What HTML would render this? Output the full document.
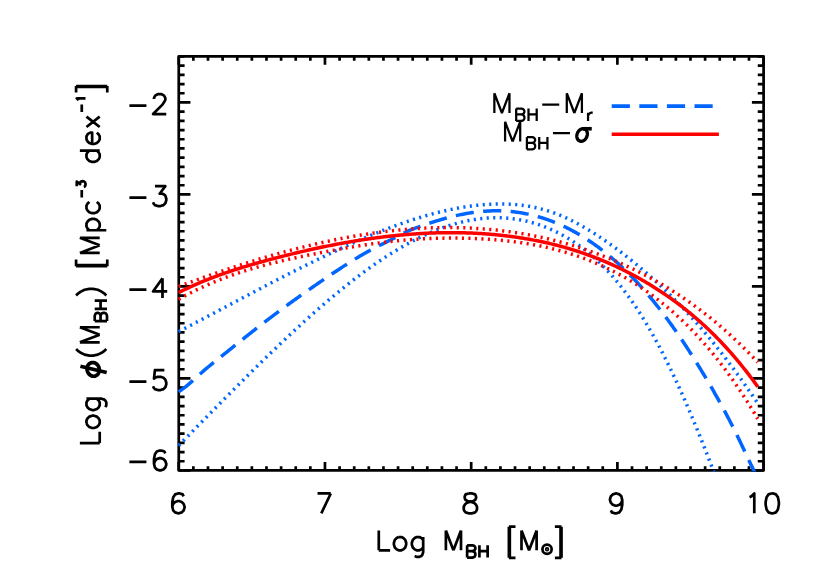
<!DOCTYPE html>
<html><head><meta charset="utf-8"><title>BH mass function</title>
<style>html,body{margin:0;padding:0;background:#fff;font-family:"Liberation Sans",sans-serif}svg{display:block}</style>
</head><body>
<svg width="817" height="584" viewBox="0 0 817 584">
<rect x="0" y="0" width="817" height="584" fill="#fff"/>
<defs><clipPath id="c"><rect x="177.75" y="56.45" width="585.85" height="415"/></clipPath></defs>
<path d="M611.7 106.1 H719" stroke="#0066ff" stroke-width="3.7" stroke-dasharray="18.2 9.4" fill="none"/>
<path d="M611.7 134.3 H718.9" stroke="#ff0000" stroke-width="3.5" fill="none"/>
<path d="M178.75 470.45 v-8.4 M178.75 56.45 v8.4 M193.37 470.45 v-4.25 M193.37 56.45 v4.25 M207.99 470.45 v-4.25 M207.99 56.45 v4.25 M222.61 470.45 v-4.25 M222.61 56.45 v4.25 M237.24 470.45 v-4.25 M237.24 56.45 v4.25 M251.86 470.45 v-4.25 M251.86 56.45 v4.25 M266.48 470.45 v-4.25 M266.48 56.45 v4.25 M281.1 470.45 v-4.25 M281.1 56.45 v4.25 M295.72 470.45 v-4.25 M295.72 56.45 v4.25 M310.34 470.45 v-4.25 M310.34 56.45 v4.25 M324.96 470.45 v-8.4 M324.96 56.45 v8.4 M339.58 470.45 v-4.25 M339.58 56.45 v4.25 M354.21 470.45 v-4.25 M354.21 56.45 v4.25 M368.83 470.45 v-4.25 M368.83 56.45 v4.25 M383.45 470.45 v-4.25 M383.45 56.45 v4.25 M398.07 470.45 v-4.25 M398.07 56.45 v4.25 M412.69 470.45 v-4.25 M412.69 56.45 v4.25 M427.31 470.45 v-4.25 M427.31 56.45 v4.25 M441.93 470.45 v-4.25 M441.93 56.45 v4.25 M456.55 470.45 v-4.25 M456.55 56.45 v4.25 M471.18 470.45 v-8.4 M471.18 56.45 v8.4 M485.8 470.45 v-4.25 M485.8 56.45 v4.25 M500.42 470.45 v-4.25 M500.42 56.45 v4.25 M515.04 470.45 v-4.25 M515.04 56.45 v4.25 M529.66 470.45 v-4.25 M529.66 56.45 v4.25 M544.28 470.45 v-4.25 M544.28 56.45 v4.25 M558.9 470.45 v-4.25 M558.9 56.45 v4.25 M573.52 470.45 v-4.25 M573.52 56.45 v4.25 M588.14 470.45 v-4.25 M588.14 56.45 v4.25 M602.77 470.45 v-4.25 M602.77 56.45 v4.25 M617.39 470.45 v-8.4 M617.39 56.45 v8.4 M632.01 470.45 v-4.25 M632.01 56.45 v4.25 M646.63 470.45 v-4.25 M646.63 56.45 v4.25 M661.25 470.45 v-4.25 M661.25 56.45 v4.25 M675.87 470.45 v-4.25 M675.87 56.45 v4.25 M690.49 470.45 v-4.25 M690.49 56.45 v4.25 M705.12 470.45 v-4.25 M705.12 56.45 v4.25 M719.74 470.45 v-4.25 M719.74 56.45 v4.25 M734.36 470.45 v-4.25 M734.36 56.45 v4.25 M748.98 470.45 v-4.25 M748.98 56.45 v4.25 M763.6 470.45 v-8.4 M763.6 56.45 v8.4 M178.75 56.45 h5.85 M763.6 56.45 h-5.85 M178.75 65.65 h5.85 M763.6 65.65 h-5.85 M178.75 74.85 h5.85 M763.6 74.85 h-5.85 M178.75 84.05 h5.85 M763.6 84.05 h-5.85 M178.75 93.25 h5.85 M763.6 93.25 h-5.85 M178.75 102.45 h11.7 M763.6 102.45 h-11.7 M178.75 111.65 h5.85 M763.6 111.65 h-5.85 M178.75 120.85 h5.85 M763.6 120.85 h-5.85 M178.75 130.05 h5.85 M763.6 130.05 h-5.85 M178.75 139.25 h5.85 M763.6 139.25 h-5.85 M178.75 148.45 h5.85 M763.6 148.45 h-5.85 M178.75 157.65 h5.85 M763.6 157.65 h-5.85 M178.75 166.85 h5.85 M763.6 166.85 h-5.85 M178.75 176.05 h5.85 M763.6 176.05 h-5.85 M178.75 185.25 h5.85 M763.6 185.25 h-5.85 M178.75 194.45 h11.7 M763.6 194.45 h-11.7 M178.75 203.65 h5.85 M763.6 203.65 h-5.85 M178.75 212.85 h5.85 M763.6 212.85 h-5.85 M178.75 222.05 h5.85 M763.6 222.05 h-5.85 M178.75 231.25 h5.85 M763.6 231.25 h-5.85 M178.75 240.45 h5.85 M763.6 240.45 h-5.85 M178.75 249.65 h5.85 M763.6 249.65 h-5.85 M178.75 258.85 h5.85 M763.6 258.85 h-5.85 M178.75 268.05 h5.85 M763.6 268.05 h-5.85 M178.75 277.25 h5.85 M763.6 277.25 h-5.85 M178.75 286.45 h11.7 M763.6 286.45 h-11.7 M178.75 295.65 h5.85 M763.6 295.65 h-5.85 M178.75 304.85 h5.85 M763.6 304.85 h-5.85 M178.75 314.05 h5.85 M763.6 314.05 h-5.85 M178.75 323.25 h5.85 M763.6 323.25 h-5.85 M178.75 332.45 h5.85 M763.6 332.45 h-5.85 M178.75 341.65 h5.85 M763.6 341.65 h-5.85 M178.75 350.85 h5.85 M763.6 350.85 h-5.85 M178.75 360.05 h5.85 M763.6 360.05 h-5.85 M178.75 369.25 h5.85 M763.6 369.25 h-5.85 M178.75 378.45 h11.7 M763.6 378.45 h-11.7 M178.75 387.65 h5.85 M763.6 387.65 h-5.85 M178.75 396.85 h5.85 M763.6 396.85 h-5.85 M178.75 406.05 h5.85 M763.6 406.05 h-5.85 M178.75 415.25 h5.85 M763.6 415.25 h-5.85 M178.75 424.45 h5.85 M763.6 424.45 h-5.85 M178.75 433.65 h5.85 M763.6 433.65 h-5.85 M178.75 442.85 h5.85 M763.6 442.85 h-5.85 M178.75 452.05 h5.85 M763.6 452.05 h-5.85 M178.75 461.25 h5.85 M763.6 461.25 h-5.85 M178.75 470.45 h11.7 M763.6 470.45 h-11.7" stroke="#000" stroke-width="2.7" fill="none"/>
<rect x="178.75" y="56.45" width="584.85" height="414" fill="none" stroke="#000" stroke-width="2.7" stroke-linejoin="round"/>
<g clip-path="url(#c)" fill="none" stroke-width="3.5" stroke-linejoin="round"><path d="M178.6 331.58 L179.76 330.98 L180.92 330.37 L182.08 329.77 L183.24 329.17 L184.4 328.57 L185.56 327.97 L186.72 327.36 L187.88 326.76 L189.04 326.15 L190.21 325.55 L191.37 324.94 L192.53 324.33 L193.69 323.73 L194.85 323.12 L196.01 322.51 L197.17 321.9 L198.33 321.29 L199.49 320.68 L200.65 320.07 L201.81 319.46 L202.97 318.85 L204.13 318.24 L205.29 317.63 L206.45 317.02 L207.61 316.41 L208.77 315.8 L209.93 315.18 L211.09 314.57 L212.26 313.96 L213.42 313.35 L214.58 312.73 L215.74 312.12 L216.9 311.51 L218.06 310.89 L219.22 310.28 L220.38 309.67 L221.54 309.05 L222.7 308.44 L223.86 307.82 L225.02 307.21 L226.18 306.6 L227.34 305.98 L228.5 305.37 L229.66 304.75 L230.82 304.14 L231.98 303.53 L233.14 302.91 L234.31 302.3 L235.47 301.68 L236.63 301.07 L237.79 300.46 L238.95 299.84 L240.11 299.23 L241.27 298.62 L242.43 298 L243.59 297.39 L244.75 296.78 L245.91 296.17 L247.07 295.56 L248.23 294.94 L249.39 294.33 L250.55 293.72 L251.71 293.11 L252.87 292.5 L254.03 291.89 L255.19 291.28 L256.35 290.67 L257.52 290.07 L258.68 289.46 L259.84 288.85 L261 288.24 L262.16 287.64 L263.32 287.03 L264.48 286.42 L265.64 285.82 L266.8 285.21 L267.96 284.61 L269.12 284.01 L270.28 283.4 L271.44 282.8 L272.6 282.2 L273.76 281.6 L274.92 281 L276.08 280.4 L277.24 279.8 L278.4 279.2 L279.57 278.61 L280.73 278.01 L281.89 277.41 L283.05 276.82 L284.21 276.22 L285.37 275.63 L286.53 275.04 L287.69 274.45 L288.85 273.85 L290.01 273.26 L291.17 272.67 L292.33 272.09 L293.49 271.5 L294.65 270.91 L295.81 270.33 L296.97 269.74 L298.13 269.16 L299.29 268.58 L300.45 268 L301.62 267.42 L302.78 266.84 L303.94 266.26 L305.1 265.68 L306.26 265.1 L307.42 264.53 L308.58 263.96 L309.74 263.38 L310.9 262.81 L312.06 262.24 L313.22 261.67 L314.38 261.1 L315.54 260.54 L316.7 259.97 L317.86 259.41 L319.02 258.85 L320.18 258.28 L321.34 257.72 L322.5 257.17 L323.67 256.61 L324.83 256.05 L325.99 255.5 L327.15 254.94 L328.31 254.39 L329.47 253.84 L330.63 253.29 L331.79 252.75 L332.95 252.2 L334.11 251.66 L335.27 251.11 L336.43 250.57 L337.59 250.03 L338.75 249.49 L339.91 248.96 L341.07 248.42 L342.23 247.89 L343.39 247.36 L344.55 246.83 L345.72 246.3 L346.88 245.77 L348.04 245.25 L349.2 244.72 L350.36 244.2 L351.52 243.68 L352.68 243.17 L353.84 242.65 L355 242.14 L356.16 241.62 L357.32 241.11 L358.48 240.61 L359.64 240.1 L360.8 239.6 L361.96 239.1 L363.12 238.6 L364.28 238.1 L365.44 237.6 L366.6 237.11 L367.76 236.62 L368.93 236.13 L370.09 235.65 L371.25 235.17 L372.41 234.68 L373.57 234.21 L374.73 233.73 L375.89 233.26 L377.05 232.79 L378.21 232.32 L379.37 231.85 L380.53 231.39 L381.69 230.93 L382.85 230.47 L384.01 230.02 L385.17 229.56 L386.33 229.12 L387.49 228.67 L388.65 228.23 L389.81 227.78 L390.98 227.35 L392.14 226.91 L393.3 226.48 L394.46 226.05 L395.62 225.63 L396.78 225.2 L397.94 224.78 L399.1 224.37 L400.26 223.95 L401.42 223.54 L402.58 223.14 L403.74 222.73 L404.9 222.33 L406.06 221.94 L407.22 221.54 L408.38 221.15 L409.54 220.77 L410.7 220.38 L411.86 220.01 L413.03 219.63 L414.19 219.26 L415.35 218.89 L416.51 218.52 L417.67 218.16 L418.83 217.8 L419.99 217.45 L421.15 217.1 L422.31 216.75 L423.47 216.41 L424.63 216.07 L425.79 215.74 L426.95 215.4 L428.11 215.08 L429.27 214.75 L430.43 214.43 L431.59 214.12 L432.75 213.81 L433.91 213.5 L435.08 213.2 L436.24 212.9 L437.4 212.61 L438.56 212.32 L439.72 212.03 L440.88 211.75 L442.04 211.47 L443.2 211.2 L444.36 210.93 L445.52 210.67 L446.68 210.41 L447.84 210.15 L449 209.9 L450.16 209.65 L451.32 209.41 L452.48 209.18 L453.64 208.94 L454.8 208.72 L455.96 208.49 L457.13 208.28 L458.29 208.06 L459.45 207.85 L460.61 207.65 L461.77 207.45 L462.93 207.26 L464.09 207.07 L465.25 206.88 L466.41 206.71 L467.57 206.53 L468.73 206.36 L469.89 206.2 L471.05 206.04 L472.21 205.89 L473.37 205.74 L474.53 205.6 L475.69 205.46 L476.85 205.33 L478.01 205.2 L479.17 205.08 L480.34 204.96 L481.5 204.85 L482.66 204.75 L483.82 204.65 L484.98 204.56 L486.14 204.47 L487.3 204.39 L488.46 204.32 L489.62 204.25 L490.78 204.19 L491.94 204.13 L493.1 204.09 L494.26 204.04 L495.42 204.01 L496.58 203.98 L497.74 203.96 L498.9 203.95 L500.06 203.94 L501.22 203.94 L502.39 203.95 L503.55 203.96 L504.71 203.98 L505.87 204.01 L507.03 204.05 L508.19 204.1 L509.35 204.15 L510.51 204.21 L511.67 204.28 L512.83 204.36 L513.99 204.44 L515.15 204.53 L516.31 204.63 L517.47 204.74 L518.63 204.86 L519.79 204.99 L520.95 205.12 L522.11 205.27 L523.27 205.42 L524.44 205.58 L525.6 205.75 L526.76 205.93 L527.92 206.12 L529.08 206.31 L530.24 206.52 L531.4 206.74 L532.56 206.96 L533.72 207.2 L534.88 207.44 L536.04 207.7 L537.2 207.96 L538.36 208.23 L539.52 208.52 L540.68 208.81 L541.84 209.11 L543 209.43 L544.16 209.75 L545.32 210.09 L546.49 210.43 L547.65 210.79 L548.81 211.16 L549.97 211.53 L551.13 211.92 L552.29 212.32 L553.45 212.73 L554.61 213.15 L555.77 213.58 L556.93 214.02 L558.09 214.48 L559.25 214.94 L560.41 215.42 L561.57 215.91 L562.73 216.41 L563.89 216.91 L565.05 217.43 L566.21 217.96 L567.37 218.5 L568.54 219.05 L569.7 219.61 L570.86 220.18 L572.02 220.75 L573.18 221.34 L574.34 221.94 L575.5 222.54 L576.66 223.16 L577.82 223.78 L578.98 224.41 L580.14 225.05 L581.3 225.7 L582.46 226.36 L583.62 227.03 L584.78 227.7 L585.94 228.38 L587.1 229.07 L588.26 229.76 L589.42 230.47 L590.58 231.18 L591.75 231.9 L592.91 232.62 L594.07 233.35 L595.23 234.09 L596.39 234.84 L597.55 235.59 L598.71 236.35 L599.87 237.11 L601.03 237.88 L602.19 238.66 L603.35 239.45 L604.51 240.24 L605.67 241.04 L606.83 241.85 L607.99 242.66 L609.15 243.48 L610.31 244.3 L611.47 245.14 L612.63 245.97 L613.8 246.82 L614.96 247.67 L616.12 248.52 L617.28 249.39 L618.44 250.26 L619.6 251.13 L620.76 252.01 L621.92 252.9 L623.08 253.79 L624.24 254.69 L625.4 255.6 L626.56 256.51 L627.72 257.42 L628.88 258.35 L630.04 259.28 L631.2 260.21 L632.36 261.15 L633.52 262.09 L634.68 263.04 L635.85 264 L637.01 264.96 L638.17 265.93 L639.33 266.9 L640.49 267.88 L641.65 268.87 L642.81 269.86 L643.97 270.85 L645.13 271.85 L646.29 272.86 L647.45 273.87 L648.61 274.89 L649.77 275.92 L650.93 276.95 L652.09 277.99 L653.25 279.03 L654.41 280.08 L655.57 281.14 L656.73 282.2 L657.9 283.27 L659.06 284.34 L660.22 285.42 L661.38 286.51 L662.54 287.61 L663.7 288.71 L664.86 289.82 L666.02 290.94 L667.18 292.06 L668.34 293.19 L669.5 294.32 L670.66 295.47 L671.82 296.62 L672.98 297.78 L674.14 298.94 L675.3 300.11 L676.46 301.29 L677.62 302.48 L678.78 303.68 L679.95 304.88 L681.11 306.09 L682.27 307.31 L683.43 308.53 L684.59 309.76 L685.75 311 L686.91 312.25 L688.07 313.51 L689.23 314.77 L690.39 316.05 L691.55 317.33 L692.71 318.61 L693.87 319.91 L695.03 321.22 L696.19 322.53 L697.35 323.85 L698.51 325.18 L699.67 326.51 L700.83 327.86 L701.99 329.21 L703.16 330.57 L704.32 331.93 L705.48 333.31 L706.64 334.69 L707.8 336.08 L708.96 337.48 L710.12 338.89 L711.28 340.3 L712.44 341.73 L713.6 343.16 L714.76 344.6 L715.92 346.04 L717.08 347.49 L718.24 348.96 L719.4 350.43 L720.56 351.9 L721.72 353.39 L722.88 354.88 L724.04 356.38 L725.21 357.89 L726.37 359.4 L727.53 360.93 L728.69 362.46 L729.85 364 L731.01 365.54 L732.17 367.1 L733.33 368.66 L734.49 370.23 L735.65 371.8 L736.81 373.39 L737.97 374.98 L739.13 376.58 L740.29 378.19 L741.45 379.8 L742.61 381.43 L743.77 383.06 L744.93 384.69 L746.09 386.34 L747.26 387.99 L748.42 389.65 L749.58 391.32 L750.74 393 L751.9 394.68 L753.06 396.37 L754.22 398.07 L755.38 399.77 L756.54 401.49 L757.7 403.21" stroke="#0066ff" stroke-dasharray="2.1 4.4"/><path d="M178.6 445.55 L179.68 444.46 L180.76 443.36 L181.84 442.26 L182.92 441.16 L183.99 440.06 L185.07 438.96 L186.15 437.86 L187.23 436.76 L188.31 435.66 L189.39 434.56 L190.47 433.46 L191.55 432.36 L192.63 431.26 L193.71 430.15 L194.78 429.05 L195.86 427.95 L196.94 426.85 L198.02 425.75 L199.1 424.65 L200.18 423.55 L201.26 422.45 L202.34 421.35 L203.42 420.25 L204.49 419.15 L205.57 418.05 L206.65 416.95 L207.73 415.85 L208.81 414.75 L209.89 413.65 L210.97 412.56 L212.05 411.46 L213.13 410.36 L214.21 409.26 L215.28 408.17 L216.36 407.07 L217.44 405.98 L218.52 404.88 L219.6 403.79 L220.68 402.69 L221.76 401.6 L222.84 400.51 L223.92 399.41 L225 398.32 L226.07 397.23 L227.15 396.14 L228.23 395.05 L229.31 393.96 L230.39 392.88 L231.47 391.79 L232.55 390.7 L233.63 389.62 L234.71 388.53 L235.78 387.45 L236.86 386.37 L237.94 385.28 L239.02 384.2 L240.1 383.12 L241.18 382.04 L242.26 380.97 L243.34 379.89 L244.42 378.81 L245.5 377.74 L246.57 376.66 L247.65 375.59 L248.73 374.52 L249.81 373.45 L250.89 372.38 L251.97 371.31 L253.05 370.25 L254.13 369.18 L255.21 368.12 L256.28 367.06 L257.36 366 L258.44 364.94 L259.52 363.88 L260.6 362.82 L261.68 361.77 L262.76 360.71 L263.84 359.66 L264.92 358.61 L266 357.56 L267.07 356.51 L268.15 355.46 L269.23 354.42 L270.31 353.38 L271.39 352.34 L272.47 351.3 L273.55 350.26 L274.63 349.22 L275.71 348.19 L276.79 347.15 L277.86 346.12 L278.94 345.09 L280.02 344.07 L281.1 343.04 L282.18 342.02 L283.26 341 L284.34 339.98 L285.42 338.96 L286.5 337.94 L287.57 336.93 L288.65 335.92 L289.73 334.91 L290.81 333.9 L291.89 332.9 L292.97 331.89 L294.05 330.89 L295.13 329.89 L296.21 328.9 L297.29 327.9 L298.36 326.91 L299.44 325.92 L300.52 324.93 L301.6 323.95 L302.68 322.96 L303.76 321.98 L304.84 321 L305.92 320.03 L307 319.06 L308.07 318.08 L309.15 317.12 L310.23 316.15 L311.31 315.19 L312.39 314.23 L313.47 313.27 L314.55 312.31 L315.63 311.36 L316.71 310.41 L317.79 309.46 L318.86 308.52 L319.94 307.58 L321.02 306.64 L322.1 305.7 L323.18 304.77 L324.26 303.84 L325.34 302.91 L326.42 301.99 L327.5 301.07 L328.58 300.15 L329.65 299.23 L330.73 298.32 L331.81 297.42 L332.89 296.51 L333.97 295.61 L335.05 294.71 L336.13 293.82 L337.21 292.92 L338.29 292.04 L339.36 291.15 L340.44 290.27 L341.52 289.39 L342.6 288.52 L343.68 287.65 L344.76 286.78 L345.84 285.92 L346.92 285.06 L348 284.2 L349.08 283.35 L350.15 282.5 L351.23 281.66 L352.31 280.82 L353.39 279.98 L354.47 279.15 L355.55 278.32 L356.63 277.5 L357.71 276.68 L358.79 275.86 L359.86 275.05 L360.94 274.24 L362.02 273.44 L363.1 272.64 L364.18 271.85 L365.26 271.05 L366.34 270.27 L367.42 269.49 L368.5 268.71 L369.58 267.94 L370.65 267.17 L371.73 266.4 L372.81 265.64 L373.89 264.89 L374.97 264.14 L376.05 263.39 L377.13 262.65 L378.21 261.91 L379.29 261.18 L380.37 260.46 L381.44 259.73 L382.52 259.02 L383.6 258.3 L384.68 257.6 L385.76 256.89 L386.84 256.2 L387.92 255.51 L389 254.82 L390.08 254.14 L391.15 253.46 L392.23 252.79 L393.31 252.12 L394.39 251.46 L395.47 250.8 L396.55 250.15 L397.63 249.51 L398.71 248.87 L399.79 248.23 L400.87 247.6 L401.94 246.98 L403.02 246.36 L404.1 245.75 L405.18 245.14 L406.26 244.54 L407.34 243.95 L408.42 243.36 L409.5 242.77 L410.58 242.2 L411.65 241.62 L412.73 241.06 L413.81 240.5 L414.89 239.94 L415.97 239.39 L417.05 238.85 L418.13 238.31 L419.21 237.78 L420.29 237.26 L421.37 236.74 L422.44 236.23 L423.52 235.72 L424.6 235.22 L425.68 234.73 L426.76 234.24 L427.84 233.76 L428.92 233.28 L430 232.82 L431.08 232.35 L432.16 231.9 L433.23 231.45 L434.31 231.01 L435.39 230.57 L436.47 230.14 L437.55 229.72 L438.63 229.3 L439.71 228.9 L440.79 228.49 L441.87 228.1 L442.94 227.71 L444.02 227.33 L445.1 226.95 L446.18 226.58 L447.26 226.22 L448.34 225.87 L449.42 225.52 L450.5 225.18 L451.58 224.85 L452.66 224.52 L453.73 224.21 L454.81 223.89 L455.89 223.59 L456.97 223.29 L458.05 223 L459.13 222.72 L460.21 222.45 L461.29 222.18 L462.37 221.92 L463.44 221.67 L464.52 221.42 L465.6 221.19 L466.68 220.96 L467.76 220.73 L468.84 220.52 L469.92 220.31 L471 220.11 L472.08 219.92 L473.16 219.74 L474.23 219.56 L475.31 219.4 L476.39 219.24 L477.47 219.09 L478.55 218.94 L479.63 218.81 L480.71 218.68 L481.79 218.56 L482.87 218.45 L483.95 218.34 L485.02 218.25 L486.1 218.16 L487.18 218.08 L488.26 218.01 L489.34 217.95 L490.42 217.9 L491.5 217.85 L492.58 217.81 L493.66 217.79 L494.73 217.77 L495.81 217.75 L496.89 217.75 L497.97 217.76 L499.05 217.77 L500.13 217.8 L501.21 217.83 L502.29 217.87 L503.37 217.92 L504.45 217.98 L505.52 218.04 L506.6 218.12 L507.68 218.2 L508.76 218.3 L509.84 218.4 L510.92 218.51 L512 218.63 L513.08 218.76 L514.16 218.9 L515.23 219.05 L516.31 219.21 L517.39 219.37 L518.47 219.55 L519.55 219.74 L520.63 219.93 L521.71 220.13 L522.79 220.35 L523.87 220.57 L524.95 220.8 L526.02 221.05 L527.1 221.3 L528.18 221.56 L529.26 221.83 L530.34 222.11 L531.42 222.4 L532.5 222.7 L533.58 223.01 L534.66 223.33 L535.74 223.66 L536.81 224 L537.89 224.34 L538.97 224.7 L540.05 225.07 L541.13 225.45 L542.21 225.84 L543.29 226.24 L544.37 226.65 L545.45 227.07 L546.52 227.5 L547.6 227.94 L548.68 228.39 L549.76 228.85 L550.84 229.32 L551.92 229.8 L553 230.29 L554.08 230.79 L555.16 231.3 L556.24 231.83 L557.31 232.36 L558.39 232.9 L559.47 233.46 L560.55 234.02 L561.63 234.6 L562.71 235.19 L563.79 235.78 L564.87 236.39 L565.95 237.01 L567.02 237.65 L568.1 238.29 L569.18 238.95 L570.26 239.61 L571.34 240.29 L572.42 240.99 L573.5 241.69 L574.58 242.41 L575.66 243.13 L576.74 243.88 L577.81 244.63 L578.89 245.4 L579.97 246.18 L581.05 246.97 L582.13 247.77 L583.21 248.59 L584.29 249.42 L585.37 250.27 L586.45 251.13 L587.53 252 L588.6 252.89 L589.68 253.79 L590.76 254.7 L591.84 255.63 L592.92 256.58 L594 257.53 L595.08 258.5 L596.16 259.49 L597.24 260.49 L598.31 261.51 L599.39 262.54 L600.47 263.59 L601.55 264.65 L602.63 265.72 L603.71 266.82 L604.79 267.92 L605.87 269.05 L606.95 270.19 L608.03 271.34 L609.1 272.51 L610.18 273.7 L611.26 274.9 L612.34 276.12 L613.42 277.36 L614.5 278.61 L615.58 279.88 L616.66 281.17 L617.74 282.47 L618.81 283.79 L619.89 285.13 L620.97 286.48 L622.05 287.85 L623.13 289.24 L624.21 290.65 L625.29 292.08 L626.37 293.52 L627.45 294.98 L628.53 296.46 L629.6 297.96 L630.68 299.47 L631.76 301.01 L632.84 302.56 L633.92 304.13 L635 305.72 L636.08 307.33 L637.16 308.96 L638.24 310.6 L639.32 312.27 L640.39 313.95 L641.47 315.66 L642.55 317.38 L643.63 319.13 L644.71 320.89 L645.79 322.68 L646.87 324.48 L647.95 326.3 L649.03 328.15 L650.1 330.01 L651.18 331.9 L652.26 333.8 L653.34 335.73 L654.42 337.68 L655.5 339.64 L656.58 341.63 L657.66 343.63 L658.74 345.65 L659.82 347.7 L660.89 349.76 L661.97 351.84 L663.05 353.94 L664.13 356.06 L665.21 358.2 L666.29 360.36 L667.37 362.53 L668.45 364.73 L669.53 366.94 L670.6 369.17 L671.68 371.42 L672.76 373.68 L673.84 375.97 L674.92 378.27 L676 380.59 L677.08 382.93 L678.16 385.28 L679.24 387.65 L680.32 390.04 L681.39 392.44 L682.47 394.86 L683.55 397.3 L684.63 399.76 L685.71 402.23 L686.79 404.72 L687.87 407.22 L688.95 409.74 L690.03 412.27 L691.11 414.83 L692.18 417.39 L693.26 419.98 L694.34 422.57 L695.42 425.19 L696.5 427.82 L697.58 430.46 L698.66 433.12 L699.74 435.79 L700.82 438.48 L701.89 441.18 L702.97 443.9 L704.05 446.63 L705.13 449.38 L706.21 452.14 L707.29 454.91 L708.37 457.7 L709.45 460.5 L710.53 463.32 L711.61 466.15 L712.68 468.99 L713.76 471.84 L714.84 474.71 L715.92 477.59 L717 480.49" stroke="#0066ff" stroke-dasharray="2.1 4.4"/><path d="M178.6 391.63 L179.76 390.93 L180.92 390.19 L182.08 389.4 L183.24 388.57 L184.4 387.7 L185.56 386.8 L186.72 385.86 L187.88 384.9 L189.04 383.92 L190.21 382.91 L191.37 381.89 L192.53 380.85 L193.69 379.8 L194.85 378.74 L196.01 377.68 L197.17 376.62 L198.33 375.56 L199.49 374.51 L200.65 373.47 L201.81 372.44 L202.97 371.42 L204.13 370.41 L205.29 369.42 L206.45 368.44 L207.61 367.47 L208.77 366.5 L209.93 365.55 L211.09 364.6 L212.26 363.66 L213.42 362.72 L214.58 361.79 L215.74 360.86 L216.9 359.93 L218.06 359 L219.22 358.08 L220.38 357.15 L221.54 356.23 L222.7 355.3 L223.86 354.37 L225.02 353.44 L226.18 352.51 L227.34 351.58 L228.5 350.64 L229.66 349.71 L230.82 348.78 L231.98 347.85 L233.14 346.91 L234.31 345.98 L235.47 345.05 L236.63 344.12 L237.79 343.19 L238.95 342.26 L240.11 341.33 L241.27 340.4 L242.43 339.47 L243.59 338.55 L244.75 337.62 L245.91 336.7 L247.07 335.78 L248.23 334.86 L249.39 333.95 L250.55 333.03 L251.71 332.12 L252.87 331.21 L254.03 330.3 L255.19 329.39 L256.35 328.49 L257.52 327.58 L258.68 326.68 L259.84 325.78 L261 324.88 L262.16 323.99 L263.32 323.1 L264.48 322.21 L265.64 321.32 L266.8 320.43 L267.96 319.55 L269.12 318.67 L270.28 317.79 L271.44 316.91 L272.6 316.04 L273.76 315.16 L274.92 314.29 L276.08 313.43 L277.24 312.56 L278.4 311.7 L279.57 310.84 L280.73 309.98 L281.89 309.12 L283.05 308.26 L284.21 307.41 L285.37 306.56 L286.53 305.71 L287.69 304.86 L288.85 304.02 L290.01 303.18 L291.17 302.34 L292.33 301.5 L293.49 300.66 L294.65 299.83 L295.81 298.99 L296.97 298.16 L298.13 297.33 L299.29 296.51 L300.45 295.68 L301.62 294.86 L302.78 294.04 L303.94 293.22 L305.1 292.4 L306.26 291.58 L307.42 290.77 L308.58 289.96 L309.74 289.15 L310.9 288.34 L312.06 287.53 L313.22 286.73 L314.38 285.92 L315.54 285.12 L316.7 284.32 L317.86 283.52 L319.02 282.73 L320.18 281.93 L321.34 281.14 L322.5 280.35 L323.67 279.56 L324.83 278.77 L325.99 277.98 L327.15 277.2 L328.31 276.41 L329.47 275.63 L330.63 274.85 L331.79 274.07 L332.95 273.3 L334.11 272.52 L335.27 271.75 L336.43 270.98 L337.59 270.21 L338.75 269.44 L339.91 268.68 L341.07 267.92 L342.23 267.16 L343.39 266.4 L344.55 265.65 L345.72 264.91 L346.88 264.16 L348.04 263.42 L349.2 262.69 L350.36 261.96 L351.52 261.23 L352.68 260.51 L353.84 259.79 L355 259.08 L356.16 258.37 L357.32 257.67 L358.48 256.98 L359.64 256.29 L360.8 255.6 L361.96 254.93 L363.12 254.25 L364.28 253.59 L365.44 252.93 L366.6 252.28 L367.76 251.64 L368.93 251 L370.09 250.37 L371.25 249.75 L372.41 249.14 L373.57 248.53 L374.73 247.93 L375.89 247.33 L377.05 246.74 L378.21 246.15 L379.37 245.56 L380.53 244.98 L381.69 244.39 L382.85 243.81 L384.01 243.23 L385.17 242.65 L386.33 242.07 L387.49 241.48 L388.65 240.89 L389.81 240.3 L390.98 239.71 L392.14 239.11 L393.3 238.5 L394.46 237.89 L395.62 237.27 L396.78 236.65 L397.94 236.03 L399.1 235.41 L400.26 234.8 L401.42 234.2 L402.58 233.62 L403.74 233.05 L404.9 232.5 L406.06 231.96 L407.22 231.44 L408.38 230.94 L409.54 230.44 L410.7 229.96 L411.86 229.49 L413.03 229.04 L414.19 228.59 L415.35 228.15 L416.51 227.71 L417.67 227.29 L418.83 226.87 L419.99 226.45 L421.15 226.04 L422.31 225.63 L423.47 225.22 L424.63 224.82 L425.79 224.42 L426.95 224.02 L428.11 223.63 L429.27 223.25 L430.43 222.86 L431.59 222.49 L432.75 222.11 L433.91 221.74 L435.08 221.38 L436.24 221.02 L437.4 220.66 L438.56 220.31 L439.72 219.96 L440.88 219.62 L442.04 219.28 L443.2 218.95 L444.36 218.63 L445.52 218.3 L446.68 217.99 L447.84 217.68 L449 217.37 L450.16 217.08 L451.32 216.78 L452.48 216.5 L453.64 216.21 L454.8 215.94 L455.96 215.67 L457.13 215.41 L458.29 215.15 L459.45 214.9 L460.61 214.66 L461.77 214.42 L462.93 214.19 L464.09 213.97 L465.25 213.75 L466.41 213.54 L467.57 213.34 L468.73 213.14 L469.89 212.95 L471.05 212.77 L472.21 212.6 L473.37 212.43 L474.53 212.27 L475.69 212.12 L476.85 211.98 L478.01 211.85 L479.17 211.72 L480.34 211.6 L481.5 211.49 L482.66 211.39 L483.82 211.29 L484.98 211.21 L486.14 211.13 L487.3 211.06 L488.46 211 L489.62 210.95 L490.78 210.9 L491.94 210.87 L493.1 210.84 L494.26 210.82 L495.42 210.81 L496.58 210.81 L497.74 210.82 L498.9 210.84 L500.06 210.86 L501.22 210.89 L502.39 210.94 L503.55 210.99 L504.71 211.05 L505.87 211.12 L507.03 211.19 L508.19 211.28 L509.35 211.38 L510.51 211.48 L511.67 211.59 L512.83 211.72 L513.99 211.85 L515.15 211.99 L516.31 212.14 L517.47 212.3 L518.63 212.46 L519.79 212.64 L520.95 212.83 L522.11 213.02 L523.27 213.23 L524.44 213.44 L525.6 213.66 L526.76 213.89 L527.92 214.14 L529.08 214.39 L530.24 214.65 L531.4 214.92 L532.56 215.2 L533.72 215.48 L534.88 215.78 L536.04 216.09 L537.2 216.41 L538.36 216.73 L539.52 217.07 L540.68 217.42 L541.84 217.77 L543 218.14 L544.16 218.51 L545.32 218.89 L546.49 219.29 L547.65 219.69 L548.81 220.11 L549.97 220.53 L551.13 220.96 L552.29 221.41 L553.45 221.86 L554.61 222.32 L555.77 222.8 L556.93 223.28 L558.09 223.77 L559.25 224.27 L560.41 224.79 L561.57 225.31 L562.73 225.84 L563.89 226.39 L565.05 226.94 L566.21 227.5 L567.37 228.08 L568.54 228.66 L569.7 229.26 L570.86 229.86 L572.02 230.48 L573.18 231.1 L574.34 231.74 L575.5 232.38 L576.66 233.04 L577.82 233.71 L578.98 234.38 L580.14 235.07 L581.3 235.77 L582.46 236.48 L583.62 237.2 L584.78 237.93 L585.94 238.67 L587.1 239.42 L588.26 240.18 L589.42 240.95 L590.58 241.74 L591.75 242.53 L592.91 243.34 L594.07 244.15 L595.23 244.98 L596.39 245.82 L597.55 246.66 L598.71 247.52 L599.87 248.39 L601.03 249.28 L602.19 250.17 L603.35 251.07 L604.51 251.99 L605.67 252.91 L606.83 253.85 L607.99 254.8 L609.15 255.76 L610.31 256.73 L611.47 257.71 L612.63 258.71 L613.8 259.71 L614.96 260.73 L616.12 261.76 L617.28 262.8 L618.44 263.85 L619.6 264.92 L620.76 265.99 L621.92 267.08 L623.08 268.18 L624.24 269.29 L625.4 270.41 L626.56 271.54 L627.72 272.69 L628.88 273.85 L630.04 275.02 L631.2 276.2 L632.36 277.39 L633.52 278.6 L634.68 279.82 L635.85 281.05 L637.01 282.29 L638.17 283.54 L639.33 284.81 L640.49 286.09 L641.65 287.38 L642.81 288.69 L643.97 290 L645.13 291.33 L646.29 292.67 L647.45 294.02 L648.61 295.39 L649.77 296.77 L650.93 298.16 L652.09 299.56 L653.25 300.98 L654.41 302.41 L655.57 303.85 L656.73 305.31 L657.9 306.77 L659.06 308.25 L660.22 309.75 L661.38 311.25 L662.54 312.77 L663.7 314.3 L664.86 315.85 L666.02 317.41 L667.18 318.98 L668.34 320.56 L669.5 322.16 L670.66 323.77 L671.82 325.39 L672.98 327.03 L674.14 328.67 L675.3 330.33 L676.46 332 L677.62 333.68 L678.78 335.38 L679.95 337.08 L681.11 338.8 L682.27 340.53 L683.43 342.27 L684.59 344.02 L685.75 345.78 L686.91 347.55 L688.07 349.34 L689.23 351.13 L690.39 352.94 L691.55 354.75 L692.71 356.58 L693.87 358.41 L695.03 360.26 L696.19 362.12 L697.35 363.98 L698.51 365.86 L699.67 367.75 L700.83 369.65 L701.99 371.56 L703.16 373.48 L704.32 375.41 L705.48 377.35 L706.64 379.3 L707.8 381.26 L708.96 383.24 L710.12 385.22 L711.28 387.22 L712.44 389.22 L713.6 391.24 L714.76 393.27 L715.92 395.32 L717.08 397.37 L718.24 399.44 L719.4 401.53 L720.56 403.63 L721.72 405.74 L722.88 407.87 L724.04 410.02 L725.21 412.18 L726.37 414.36 L727.53 416.56 L728.69 418.78 L729.85 421.01 L731.01 423.27 L732.17 425.54 L733.33 427.83 L734.49 430.15 L735.65 432.48 L736.81 434.84 L737.97 437.22 L739.13 439.62 L740.29 442.03 L741.45 444.46 L742.61 446.9 L743.77 449.36 L744.93 451.82 L746.09 454.28 L747.26 456.75 L748.42 459.22 L749.58 461.69 L750.74 464.16 L751.9 466.62 L753.06 469.08 L754.22 471.52 L755.38 473.95 L756.54 476.37 L757.7 478.77" stroke="#0066ff" stroke-dasharray="18.2 9.4"/><path d="M178.6 286.47 L179.76 286.04 L180.92 285.61 L182.08 285.18 L183.24 284.75 L184.4 284.33 L185.56 283.9 L186.72 283.48 L187.88 283.05 L189.04 282.63 L190.21 282.21 L191.37 281.79 L192.53 281.37 L193.69 280.95 L194.85 280.53 L196.01 280.12 L197.17 279.7 L198.33 279.28 L199.49 278.87 L200.65 278.46 L201.81 278.05 L202.97 277.64 L204.13 277.23 L205.29 276.82 L206.45 276.41 L207.61 276 L208.77 275.6 L209.93 275.19 L211.09 274.79 L212.26 274.39 L213.42 273.99 L214.58 273.59 L215.74 273.19 L216.9 272.79 L218.06 272.39 L219.22 272 L220.38 271.6 L221.54 271.21 L222.7 270.82 L223.86 270.43 L225.02 270.04 L226.18 269.65 L227.34 269.26 L228.5 268.88 L229.66 268.49 L230.82 268.11 L231.98 267.73 L233.14 267.35 L234.31 266.97 L235.47 266.59 L236.63 266.21 L237.79 265.84 L238.95 265.46 L240.11 265.09 L241.27 264.72 L242.43 264.35 L243.59 263.98 L244.75 263.61 L245.91 263.24 L247.07 262.88 L248.23 262.51 L249.39 262.15 L250.55 261.79 L251.71 261.43 L252.87 261.07 L254.03 260.72 L255.19 260.36 L256.35 260.01 L257.52 259.65 L258.68 259.3 L259.84 258.95 L261 258.61 L262.16 258.26 L263.32 257.91 L264.48 257.57 L265.64 257.23 L266.8 256.89 L267.96 256.55 L269.12 256.21 L270.28 255.87 L271.44 255.54 L272.6 255.21 L273.76 254.87 L274.92 254.54 L276.08 254.22 L277.24 253.89 L278.4 253.56 L279.57 253.24 L280.73 252.92 L281.89 252.6 L283.05 252.28 L284.21 251.96 L285.37 251.65 L286.53 251.33 L287.69 251.02 L288.85 250.71 L290.01 250.4 L291.17 250.09 L292.33 249.79 L293.49 249.48 L294.65 249.18 L295.81 248.88 L296.97 248.58 L298.13 248.29 L299.29 247.99 L300.45 247.7 L301.62 247.41 L302.78 247.12 L303.94 246.83 L305.1 246.54 L306.26 246.26 L307.42 245.97 L308.58 245.69 L309.74 245.41 L310.9 245.14 L312.06 244.86 L313.22 244.59 L314.38 244.32 L315.54 244.05 L316.7 243.78 L317.86 243.51 L319.02 243.25 L320.18 242.98 L321.34 242.72 L322.5 242.46 L323.67 242.21 L324.83 241.95 L325.99 241.7 L327.15 241.45 L328.31 241.2 L329.47 240.95 L330.63 240.71 L331.79 240.46 L332.95 240.22 L334.11 239.98 L335.27 239.75 L336.43 239.51 L337.59 239.28 L338.75 239.05 L339.91 238.82 L341.07 238.59 L342.23 238.37 L343.39 238.14 L344.55 237.92 L345.72 237.7 L346.88 237.49 L348.04 237.27 L349.2 237.06 L350.36 236.85 L351.52 236.64 L352.68 236.44 L353.84 236.23 L355 236.03 L356.16 235.83 L357.32 235.63 L358.48 235.44 L359.64 235.24 L360.8 235.05 L361.96 234.86 L363.12 234.68 L364.28 234.49 L365.44 234.31 L366.6 234.13 L367.76 233.95 L368.93 233.78 L370.09 233.6 L371.25 233.43 L372.41 233.27 L373.57 233.1 L374.73 232.93 L375.89 232.77 L377.05 232.61 L378.21 232.46 L379.37 232.3 L380.53 232.15 L381.69 232 L382.85 231.85 L384.01 231.71 L385.17 231.56 L386.33 231.42 L387.49 231.28 L388.65 231.15 L389.81 231.01 L390.98 230.88 L392.14 230.75 L393.3 230.63 L394.46 230.5 L395.62 230.38 L396.78 230.26 L397.94 230.15 L399.1 230.03 L400.26 229.92 L401.42 229.81 L402.58 229.7 L403.74 229.6 L404.9 229.5 L406.06 229.4 L407.22 229.3 L408.38 229.21 L409.54 229.12 L410.7 229.03 L411.86 228.94 L413.03 228.86 L414.19 228.78 L415.35 228.7 L416.51 228.62 L417.67 228.55 L418.83 228.48 L419.99 228.41 L421.15 228.34 L422.31 228.28 L423.47 228.22 L424.63 228.16 L425.79 228.11 L426.95 228.05 L428.11 228 L429.27 227.96 L430.43 227.91 L431.59 227.87 L432.75 227.83 L433.91 227.8 L435.08 227.76 L436.24 227.73 L437.4 227.7 L438.56 227.68 L439.72 227.66 L440.88 227.64 L442.04 227.62 L443.2 227.6 L444.36 227.59 L445.52 227.58 L446.68 227.58 L447.84 227.58 L449 227.57 L450.16 227.58 L451.32 227.58 L452.48 227.59 L453.64 227.6 L454.8 227.62 L455.96 227.63 L457.13 227.65 L458.29 227.68 L459.45 227.7 L460.61 227.73 L461.77 227.76 L462.93 227.8 L464.09 227.83 L465.25 227.87 L466.41 227.92 L467.57 227.96 L468.73 228.01 L469.89 228.06 L471.05 228.12 L472.21 228.18 L473.37 228.24 L474.53 228.3 L475.69 228.37 L476.85 228.44 L478.01 228.51 L479.17 228.59 L480.34 228.67 L481.5 228.75 L482.66 228.84 L483.82 228.93 L484.98 229.02 L486.14 229.11 L487.3 229.21 L488.46 229.31 L489.62 229.42 L490.78 229.52 L491.94 229.63 L493.1 229.75 L494.26 229.86 L495.42 229.98 L496.58 230.11 L497.74 230.23 L498.9 230.36 L500.06 230.49 L501.22 230.63 L502.39 230.77 L503.55 230.91 L504.71 231.06 L505.87 231.21 L507.03 231.36 L508.19 231.51 L509.35 231.67 L510.51 231.83 L511.67 232 L512.83 232.17 L513.99 232.34 L515.15 232.51 L516.31 232.69 L517.47 232.87 L518.63 233.06 L519.79 233.25 L520.95 233.44 L522.11 233.63 L523.27 233.83 L524.44 234.03 L525.6 234.24 L526.76 234.45 L527.92 234.66 L529.08 234.87 L530.24 235.09 L531.4 235.32 L532.56 235.54 L533.72 235.77 L534.88 236 L536.04 236.24 L537.2 236.48 L538.36 236.72 L539.52 236.97 L540.68 237.22 L541.84 237.47 L543 237.73 L544.16 237.99 L545.32 238.25 L546.49 238.52 L547.65 238.79 L548.81 239.06 L549.97 239.34 L551.13 239.62 L552.29 239.91 L553.45 240.2 L554.61 240.49 L555.77 240.79 L556.93 241.09 L558.09 241.39 L559.25 241.7 L560.41 242.01 L561.57 242.32 L562.73 242.64 L563.89 242.96 L565.05 243.29 L566.21 243.62 L567.37 243.95 L568.54 244.28 L569.7 244.62 L570.86 244.97 L572.02 245.32 L573.18 245.67 L574.34 246.02 L575.5 246.38 L576.66 246.74 L577.82 247.11 L578.98 247.48 L580.14 247.85 L581.3 248.23 L582.46 248.61 L583.62 249 L584.78 249.39 L585.94 249.78 L587.1 250.17 L588.26 250.58 L589.42 250.98 L590.58 251.39 L591.75 251.8 L592.91 252.22 L594.07 252.64 L595.23 253.06 L596.39 253.49 L597.55 253.92 L598.71 254.35 L599.87 254.79 L601.03 255.24 L602.19 255.68 L603.35 256.13 L604.51 256.59 L605.67 257.05 L606.83 257.51 L607.99 257.98 L609.15 258.45 L610.31 258.92 L611.47 259.4 L612.63 259.89 L613.8 260.37 L614.96 260.86 L616.12 261.36 L617.28 261.86 L618.44 262.36 L619.6 262.87 L620.76 263.38 L621.92 263.9 L623.08 264.42 L624.24 264.94 L625.4 265.47 L626.56 266 L627.72 266.54 L628.88 267.08 L630.04 267.62 L631.2 268.17 L632.36 268.72 L633.52 269.28 L634.68 269.84 L635.85 270.41 L637.01 270.98 L638.17 271.56 L639.33 272.14 L640.49 272.73 L641.65 273.32 L642.81 273.91 L643.97 274.51 L645.13 275.11 L646.29 275.72 L647.45 276.34 L648.61 276.96 L649.77 277.58 L650.93 278.21 L652.09 278.84 L653.25 279.48 L654.41 280.12 L655.57 280.77 L656.73 281.43 L657.9 282.09 L659.06 282.75 L660.22 283.42 L661.38 284.1 L662.54 284.78 L663.7 285.46 L664.86 286.15 L666.02 286.85 L667.18 287.55 L668.34 288.26 L669.5 288.97 L670.66 289.69 L671.82 290.42 L672.98 291.15 L674.14 291.88 L675.3 292.62 L676.46 293.37 L677.62 294.12 L678.78 294.88 L679.95 295.65 L681.11 296.42 L682.27 297.19 L683.43 297.98 L684.59 298.77 L685.75 299.56 L686.91 300.36 L688.07 301.17 L689.23 301.98 L690.39 302.8 L691.55 303.63 L692.71 304.46 L693.87 305.3 L695.03 306.14 L696.19 306.99 L697.35 307.85 L698.51 308.71 L699.67 309.58 L700.83 310.46 L701.99 311.35 L703.16 312.24 L704.32 313.13 L705.48 314.04 L706.64 314.95 L707.8 315.86 L708.96 316.79 L710.12 317.72 L711.28 318.66 L712.44 319.6 L713.6 320.55 L714.76 321.51 L715.92 322.47 L717.08 323.45 L718.24 324.43 L719.4 325.41 L720.56 326.41 L721.72 327.41 L722.88 328.42 L724.04 329.43 L725.21 330.46 L726.37 331.49 L727.53 332.52 L728.69 333.57 L729.85 334.62 L731.01 335.68 L732.17 336.75 L733.33 337.82 L734.49 338.91 L735.65 340 L736.81 341.1 L737.97 342.2 L739.13 343.32 L740.29 344.44 L741.45 345.57 L742.61 346.7 L743.77 347.85 L744.93 349 L746.09 350.16 L747.26 351.33 L748.42 352.51 L749.58 353.69 L750.74 354.89 L751.9 356.09 L753.06 357.3 L754.22 358.51 L755.38 359.74 L756.54 360.98 L757.7 362.22" stroke="#ff0000" stroke-dasharray="2.1 4.4"/><path d="M178.6 299.29 L179.76 298.64 L180.92 297.99 L182.08 297.35 L183.24 296.71 L184.4 296.09 L185.56 295.46 L186.72 294.85 L187.88 294.24 L189.04 293.64 L190.21 293.04 L191.37 292.45 L192.53 291.86 L193.69 291.28 L194.85 290.71 L196.01 290.14 L197.17 289.58 L198.33 289.03 L199.49 288.47 L200.65 287.93 L201.81 287.39 L202.97 286.86 L204.13 286.33 L205.29 285.8 L206.45 285.29 L207.61 284.77 L208.77 284.27 L209.93 283.77 L211.09 283.27 L212.26 282.78 L213.42 282.29 L214.58 281.81 L215.74 281.33 L216.9 280.86 L218.06 280.39 L219.22 279.93 L220.38 279.48 L221.54 279.02 L222.7 278.58 L223.86 278.13 L225.02 277.69 L226.18 277.26 L227.34 276.83 L228.5 276.41 L229.66 275.99 L230.82 275.57 L231.98 275.16 L233.14 274.75 L234.31 274.35 L235.47 273.95 L236.63 273.55 L237.79 273.16 L238.95 272.77 L240.11 272.39 L241.27 272.01 L242.43 271.64 L243.59 271.27 L244.75 270.9 L245.91 270.53 L247.07 270.17 L248.23 269.82 L249.39 269.46 L250.55 269.12 L251.71 268.77 L252.87 268.43 L254.03 268.09 L255.19 267.75 L256.35 267.42 L257.52 267.09 L258.68 266.76 L259.84 266.44 L261 266.12 L262.16 265.8 L263.32 265.49 L264.48 265.18 L265.64 264.87 L266.8 264.57 L267.96 264.26 L269.12 263.97 L270.28 263.67 L271.44 263.37 L272.6 263.08 L273.76 262.79 L274.92 262.51 L276.08 262.22 L277.24 261.94 L278.4 261.66 L279.57 261.39 L280.73 261.11 L281.89 260.84 L283.05 260.57 L284.21 260.3 L285.37 260.04 L286.53 259.77 L287.69 259.51 L288.85 259.25 L290.01 258.99 L291.17 258.74 L292.33 258.48 L293.49 258.23 L294.65 257.98 L295.81 257.73 L296.97 257.49 L298.13 257.24 L299.29 257 L300.45 256.75 L301.62 256.51 L302.78 256.27 L303.94 256.03 L305.1 255.8 L306.26 255.56 L307.42 255.32 L308.58 255.09 L309.74 254.86 L310.9 254.63 L312.06 254.39 L313.22 254.17 L314.38 253.94 L315.54 253.71 L316.7 253.48 L317.86 253.25 L319.02 253.03 L320.18 252.8 L321.34 252.58 L322.5 252.36 L323.67 252.13 L324.83 251.91 L325.99 251.69 L327.15 251.47 L328.31 251.25 L329.47 251.03 L330.63 250.81 L331.79 250.59 L332.95 250.38 L334.11 250.16 L335.27 249.95 L336.43 249.74 L337.59 249.52 L338.75 249.31 L339.91 249.1 L341.07 248.9 L342.23 248.69 L343.39 248.48 L344.55 248.28 L345.72 248.08 L346.88 247.87 L348.04 247.67 L349.2 247.47 L350.36 247.28 L351.52 247.08 L352.68 246.88 L353.84 246.69 L355 246.5 L356.16 246.31 L357.32 246.12 L358.48 245.93 L359.64 245.75 L360.8 245.56 L361.96 245.38 L363.12 245.2 L364.28 245.02 L365.44 244.85 L366.6 244.67 L367.76 244.5 L368.93 244.33 L370.09 244.16 L371.25 243.99 L372.41 243.82 L373.57 243.66 L374.73 243.5 L375.89 243.34 L377.05 243.18 L378.21 243.03 L379.37 242.87 L380.53 242.72 L381.69 242.57 L382.85 242.43 L384.01 242.28 L385.17 242.14 L386.33 242 L387.49 241.86 L388.65 241.73 L389.81 241.6 L390.98 241.47 L392.14 241.34 L393.3 241.21 L394.46 241.09 L395.62 240.97 L396.78 240.85 L397.94 240.74 L399.1 240.62 L400.26 240.51 L401.42 240.4 L402.58 240.3 L403.74 240.2 L404.9 240.09 L406.06 240 L407.22 239.9 L408.38 239.81 L409.54 239.71 L410.7 239.63 L411.86 239.54 L413.03 239.46 L414.19 239.37 L415.35 239.3 L416.51 239.22 L417.67 239.14 L418.83 239.07 L419.99 239 L421.15 238.94 L422.31 238.87 L423.47 238.81 L424.63 238.75 L425.79 238.69 L426.95 238.64 L428.11 238.59 L429.27 238.54 L430.43 238.49 L431.59 238.45 L432.75 238.4 L433.91 238.36 L435.08 238.33 L436.24 238.29 L437.4 238.26 L438.56 238.23 L439.72 238.2 L440.88 238.18 L442.04 238.16 L443.2 238.13 L444.36 238.12 L445.52 238.1 L446.68 238.09 L447.84 238.08 L449 238.07 L450.16 238.07 L451.32 238.06 L452.48 238.06 L453.64 238.07 L454.8 238.07 L455.96 238.08 L457.13 238.09 L458.29 238.1 L459.45 238.11 L460.61 238.13 L461.77 238.15 L462.93 238.17 L464.09 238.2 L465.25 238.22 L466.41 238.25 L467.57 238.29 L468.73 238.32 L469.89 238.36 L471.05 238.4 L472.21 238.44 L473.37 238.48 L474.53 238.53 L475.69 238.58 L476.85 238.63 L478.01 238.68 L479.17 238.74 L480.34 238.8 L481.5 238.86 L482.66 238.93 L483.82 238.99 L484.98 239.06 L486.14 239.14 L487.3 239.21 L488.46 239.29 L489.62 239.37 L490.78 239.45 L491.94 239.53 L493.1 239.62 L494.26 239.71 L495.42 239.81 L496.58 239.9 L497.74 240 L498.9 240.1 L500.06 240.21 L501.22 240.32 L502.39 240.43 L503.55 240.54 L504.71 240.66 L505.87 240.78 L507.03 240.91 L508.19 241.03 L509.35 241.16 L510.51 241.3 L511.67 241.44 L512.83 241.58 L513.99 241.72 L515.15 241.87 L516.31 242.02 L517.47 242.17 L518.63 242.33 L519.79 242.5 L520.95 242.66 L522.11 242.83 L523.27 243 L524.44 243.18 L525.6 243.36 L526.76 243.55 L527.92 243.74 L529.08 243.93 L530.24 244.13 L531.4 244.33 L532.56 244.53 L533.72 244.74 L534.88 244.96 L536.04 245.18 L537.2 245.4 L538.36 245.62 L539.52 245.86 L540.68 246.09 L541.84 246.33 L543 246.57 L544.16 246.82 L545.32 247.08 L546.49 247.33 L547.65 247.6 L548.81 247.86 L549.97 248.14 L551.13 248.41 L552.29 248.69 L553.45 248.98 L554.61 249.27 L555.77 249.57 L556.93 249.87 L558.09 250.17 L559.25 250.49 L560.41 250.8 L561.57 251.12 L562.73 251.45 L563.89 251.78 L565.05 252.12 L566.21 252.46 L567.37 252.81 L568.54 253.16 L569.7 253.52 L570.86 253.88 L572.02 254.25 L573.18 254.63 L574.34 255.01 L575.5 255.39 L576.66 255.78 L577.82 256.18 L578.98 256.58 L580.14 256.99 L581.3 257.41 L582.46 257.83 L583.62 258.25 L584.78 258.68 L585.94 259.12 L587.1 259.56 L588.26 260.01 L589.42 260.47 L590.58 260.93 L591.75 261.4 L592.91 261.88 L594.07 262.36 L595.23 262.84 L596.39 263.34 L597.55 263.84 L598.71 264.34 L599.87 264.85 L601.03 265.37 L602.19 265.9 L603.35 266.43 L604.51 266.97 L605.67 267.51 L606.83 268.07 L607.99 268.62 L609.15 269.19 L610.31 269.76 L611.47 270.34 L612.63 270.93 L613.8 271.52 L614.96 272.12 L616.12 272.72 L617.28 273.34 L618.44 273.96 L619.6 274.59 L620.76 275.22 L621.92 275.86 L623.08 276.51 L624.24 277.17 L625.4 277.83 L626.56 278.5 L627.72 279.18 L628.88 279.87 L630.04 280.56 L631.2 281.26 L632.36 281.97 L633.52 282.69 L634.68 283.41 L635.85 284.14 L637.01 284.88 L638.17 285.63 L639.33 286.39 L640.49 287.15 L641.65 287.92 L642.81 288.7 L643.97 289.49 L645.13 290.28 L646.29 291.08 L647.45 291.9 L648.61 292.72 L649.77 293.55 L650.93 294.38 L652.09 295.23 L653.25 296.08 L654.41 296.95 L655.57 297.82 L656.73 298.7 L657.9 299.59 L659.06 300.49 L660.22 301.4 L661.38 302.32 L662.54 303.25 L663.7 304.19 L664.86 305.14 L666.02 306.09 L667.18 307.06 L668.34 308.04 L669.5 309.02 L670.66 310.02 L671.82 311.02 L672.98 312.04 L674.14 313.07 L675.3 314.1 L676.46 315.15 L677.62 316.21 L678.78 317.28 L679.95 318.36 L681.11 319.44 L682.27 320.54 L683.43 321.66 L684.59 322.78 L685.75 323.91 L686.91 325.05 L688.07 326.21 L689.23 327.37 L690.39 328.55 L691.55 329.74 L692.71 330.94 L693.87 332.15 L695.03 333.38 L696.19 334.61 L697.35 335.86 L698.51 337.12 L699.67 338.39 L700.83 339.67 L701.99 340.96 L703.16 342.27 L704.32 343.59 L705.48 344.92 L706.64 346.26 L707.8 347.62 L708.96 348.99 L710.12 350.37 L711.28 351.76 L712.44 353.17 L713.6 354.59 L714.76 356.02 L715.92 357.46 L717.08 358.92 L718.24 360.39 L719.4 361.88 L720.56 363.37 L721.72 364.89 L722.88 366.41 L724.04 367.95 L725.21 369.5 L726.37 371.06 L727.53 372.64 L728.69 374.24 L729.85 375.84 L731.01 377.47 L732.17 379.1 L733.33 380.75 L734.49 382.41 L735.65 384.09 L736.81 385.78 L737.97 387.49 L739.13 389.21 L740.29 390.95 L741.45 392.7 L742.61 394.46 L743.77 396.24 L744.93 398.04 L746.09 399.85 L747.26 401.67 L748.42 403.51 L749.58 405.37 L750.74 407.24 L751.9 409.13 L753.06 411.03 L754.22 412.94 L755.38 414.88 L756.54 416.83 L757.7 418.79" stroke="#ff0000" stroke-dasharray="2.1 4.4"/><path d="M178.6 292.61 L179.76 292.03 L180.92 291.45 L182.08 290.87 L183.24 290.3 L184.4 289.74 L185.56 289.18 L186.72 288.63 L187.88 288.08 L189.04 287.54 L190.21 287.01 L191.37 286.47 L192.53 285.95 L193.69 285.43 L194.85 284.91 L196.01 284.4 L197.17 283.89 L198.33 283.39 L199.49 282.9 L200.65 282.41 L201.81 281.92 L202.97 281.44 L204.13 280.96 L205.29 280.49 L206.45 280.02 L207.61 279.55 L208.77 279.09 L209.93 278.64 L211.09 278.18 L212.26 277.74 L213.42 277.29 L214.58 276.86 L215.74 276.42 L216.9 275.99 L218.06 275.56 L219.22 275.14 L220.38 274.72 L221.54 274.3 L222.7 273.89 L223.86 273.48 L225.02 273.08 L226.18 272.68 L227.34 272.28 L228.5 271.88 L229.66 271.49 L230.82 271.1 L231.98 270.72 L233.14 270.34 L234.31 269.96 L235.47 269.58 L236.63 269.21 L237.79 268.84 L238.95 268.48 L240.11 268.11 L241.27 267.75 L242.43 267.39 L243.59 267.04 L244.75 266.68 L245.91 266.33 L247.07 265.99 L248.23 265.64 L249.39 265.3 L250.55 264.96 L251.71 264.62 L252.87 264.28 L254.03 263.95 L255.19 263.62 L256.35 263.29 L257.52 262.96 L258.68 262.63 L259.84 262.31 L261 261.99 L262.16 261.67 L263.32 261.35 L264.48 261.03 L265.64 260.72 L266.8 260.4 L267.96 260.09 L269.12 259.78 L270.28 259.47 L271.44 259.16 L272.6 258.86 L273.76 258.55 L274.92 258.25 L276.08 257.94 L277.24 257.64 L278.4 257.34 L279.57 257.05 L280.73 256.75 L281.89 256.45 L283.05 256.16 L284.21 255.87 L285.37 255.57 L286.53 255.29 L287.69 255 L288.85 254.71 L290.01 254.42 L291.17 254.14 L292.33 253.86 L293.49 253.58 L294.65 253.3 L295.81 253.02 L296.97 252.74 L298.13 252.47 L299.29 252.19 L300.45 251.92 L301.62 251.65 L302.78 251.38 L303.94 251.12 L305.1 250.85 L306.26 250.59 L307.42 250.32 L308.58 250.06 L309.74 249.8 L310.9 249.55 L312.06 249.29 L313.22 249.03 L314.38 248.78 L315.54 248.53 L316.7 248.28 L317.86 248.03 L319.02 247.79 L320.18 247.54 L321.34 247.3 L322.5 247.06 L323.67 246.82 L324.83 246.58 L325.99 246.34 L327.15 246.11 L328.31 245.87 L329.47 245.64 L330.63 245.41 L331.79 245.18 L332.95 244.96 L334.11 244.73 L335.27 244.51 L336.43 244.29 L337.59 244.07 L338.75 243.85 L339.91 243.64 L341.07 243.42 L342.23 243.21 L343.39 243 L344.55 242.79 L345.72 242.59 L346.88 242.38 L348.04 242.18 L349.2 241.98 L350.36 241.78 L351.52 241.58 L352.68 241.39 L353.84 241.19 L355 241 L356.16 240.81 L357.32 240.62 L358.48 240.44 L359.64 240.25 L360.8 240.07 L361.96 239.89 L363.12 239.71 L364.28 239.54 L365.44 239.36 L366.6 239.19 L367.76 239.02 L368.93 238.85 L370.09 238.68 L371.25 238.52 L372.41 238.36 L373.57 238.2 L374.73 238.04 L375.89 237.88 L377.05 237.73 L378.21 237.58 L379.37 237.43 L380.53 237.28 L381.69 237.13 L382.85 236.99 L384.01 236.85 L385.17 236.71 L386.33 236.57 L387.49 236.44 L388.65 236.3 L389.81 236.17 L390.98 236.05 L392.14 235.92 L393.3 235.8 L394.46 235.67 L395.62 235.55 L396.78 235.44 L397.94 235.32 L399.1 235.21 L400.26 235.1 L401.42 234.99 L402.58 234.89 L403.74 234.78 L404.9 234.68 L406.06 234.58 L407.22 234.49 L408.38 234.39 L409.54 234.3 L410.7 234.21 L411.86 234.12 L413.03 234.04 L414.19 233.96 L415.35 233.88 L416.51 233.8 L417.67 233.72 L418.83 233.65 L419.99 233.58 L421.15 233.51 L422.31 233.45 L423.47 233.38 L424.63 233.32 L425.79 233.27 L426.95 233.21 L428.11 233.16 L429.27 233.11 L430.43 233.06 L431.59 233.01 L432.75 232.97 L433.91 232.93 L435.08 232.89 L436.24 232.86 L437.4 232.83 L438.56 232.8 L439.72 232.77 L440.88 232.74 L442.04 232.72 L443.2 232.7 L444.36 232.68 L445.52 232.67 L446.68 232.66 L447.84 232.65 L449 232.64 L450.16 232.64 L451.32 232.64 L452.48 232.64 L453.64 232.65 L454.8 232.65 L455.96 232.66 L457.13 232.68 L458.29 232.69 L459.45 232.71 L460.61 232.73 L461.77 232.76 L462.93 232.78 L464.09 232.81 L465.25 232.85 L466.41 232.88 L467.57 232.92 L468.73 232.96 L469.89 233 L471.05 233.05 L472.21 233.1 L473.37 233.15 L474.53 233.21 L475.69 233.27 L476.85 233.33 L478.01 233.39 L479.17 233.46 L480.34 233.53 L481.5 233.6 L482.66 233.68 L483.82 233.76 L484.98 233.84 L486.14 233.92 L487.3 234.01 L488.46 234.1 L489.62 234.2 L490.78 234.29 L491.94 234.39 L493.1 234.49 L494.26 234.6 L495.42 234.71 L496.58 234.82 L497.74 234.94 L498.9 235.06 L500.06 235.18 L501.22 235.3 L502.39 235.43 L503.55 235.56 L504.71 235.7 L505.87 235.83 L507.03 235.97 L508.19 236.12 L509.35 236.26 L510.51 236.41 L511.67 236.57 L512.83 236.72 L513.99 236.88 L515.15 237.05 L516.31 237.21 L517.47 237.38 L518.63 237.56 L519.79 237.73 L520.95 237.91 L522.11 238.09 L523.27 238.28 L524.44 238.47 L525.6 238.67 L526.76 238.86 L527.92 239.06 L529.08 239.27 L530.24 239.48 L531.4 239.69 L532.56 239.9 L533.72 240.12 L534.88 240.35 L536.04 240.57 L537.2 240.8 L538.36 241.04 L539.52 241.27 L540.68 241.51 L541.84 241.76 L543 242.01 L544.16 242.26 L545.32 242.52 L546.49 242.78 L547.65 243.05 L548.81 243.31 L549.97 243.59 L551.13 243.86 L552.29 244.14 L553.45 244.43 L554.61 244.72 L555.77 245.01 L556.93 245.31 L558.09 245.61 L559.25 245.92 L560.41 246.23 L561.57 246.54 L562.73 246.86 L563.89 247.18 L565.05 247.51 L566.21 247.84 L567.37 248.17 L568.54 248.51 L569.7 248.86 L570.86 249.21 L572.02 249.56 L573.18 249.92 L574.34 250.28 L575.5 250.65 L576.66 251.02 L577.82 251.39 L578.98 251.78 L580.14 252.16 L581.3 252.55 L582.46 252.94 L583.62 253.34 L584.78 253.75 L585.94 254.15 L587.1 254.57 L588.26 254.99 L589.42 255.41 L590.58 255.84 L591.75 256.27 L592.91 256.71 L594.07 257.15 L595.23 257.59 L596.39 258.05 L597.55 258.5 L598.71 258.96 L599.87 259.43 L601.03 259.9 L602.19 260.38 L603.35 260.86 L604.51 261.35 L605.67 261.84 L606.83 262.34 L607.99 262.84 L609.15 263.35 L610.31 263.86 L611.47 264.38 L612.63 264.9 L613.8 265.43 L614.96 265.97 L616.12 266.5 L617.28 267.05 L618.44 267.6 L619.6 268.15 L620.76 268.72 L621.92 269.28 L623.08 269.85 L624.24 270.43 L625.4 271.01 L626.56 271.6 L627.72 272.19 L628.88 272.79 L630.04 273.4 L631.2 274.01 L632.36 274.63 L633.52 275.25 L634.68 275.88 L635.85 276.51 L637.01 277.15 L638.17 277.79 L639.33 278.44 L640.49 279.1 L641.65 279.76 L642.81 280.43 L643.97 281.11 L645.13 281.79 L646.29 282.47 L647.45 283.16 L648.61 283.86 L649.77 284.56 L650.93 285.27 L652.09 285.99 L653.25 286.71 L654.41 287.44 L655.57 288.18 L656.73 288.92 L657.9 289.66 L659.06 290.41 L660.22 291.17 L661.38 291.94 L662.54 292.71 L663.7 293.49 L664.86 294.27 L666.02 295.07 L667.18 295.86 L668.34 296.67 L669.5 297.48 L670.66 298.3 L671.82 299.13 L672.98 299.96 L674.14 300.8 L675.3 301.65 L676.46 302.5 L677.62 303.37 L678.78 304.24 L679.95 305.12 L681.11 306.01 L682.27 306.9 L683.43 307.8 L684.59 308.71 L685.75 309.63 L686.91 310.56 L688.07 311.5 L689.23 312.44 L690.39 313.4 L691.55 314.36 L692.71 315.33 L693.87 316.31 L695.03 317.3 L696.19 318.3 L697.35 319.3 L698.51 320.32 L699.67 321.35 L700.83 322.38 L701.99 323.43 L703.16 324.48 L704.32 325.55 L705.48 326.62 L706.64 327.7 L707.8 328.8 L708.96 329.9 L710.12 331.02 L711.28 332.14 L712.44 333.28 L713.6 334.42 L714.76 335.58 L715.92 336.75 L717.08 337.93 L718.24 339.12 L719.4 340.32 L720.56 341.53 L721.72 342.75 L722.88 343.98 L724.04 345.23 L725.21 346.48 L726.37 347.75 L727.53 349.03 L728.69 350.32 L729.85 351.63 L731.01 352.94 L732.17 354.27 L733.33 355.61 L734.49 356.96 L735.65 358.32 L736.81 359.7 L737.97 361.09 L739.13 362.49 L740.29 363.9 L741.45 365.33 L742.61 366.77 L743.77 368.22 L744.93 369.69 L746.09 371.16 L747.26 372.66 L748.42 374.16 L749.58 375.68 L750.74 377.21 L751.9 378.76 L753.06 380.32 L754.22 381.89 L755.38 383.48 L756.54 385.08 L757.7 386.69" stroke="#ff0000"/></g>
<g transform="translate(177.95 513.3) translate(-9.45 0)"><path d="M15.12 -17.01 L14.17 -18.9 L11.34 -19.84 L9.45 -19.84 L6.61 -18.9 L4.72 -16.06 L3.78 -11.34 L3.78 -6.61 L4.72 -2.83 L6.61 -0.94 L9.45 0 L10.39 0 L13.23 -0.94 L15.12 -2.83 L16.06 -5.67 L16.06 -6.61 L15.12 -9.45 L13.23 -11.34 L10.39 -12.29 L9.45 -12.29 L6.61 -11.34 L4.72 -9.45 L3.78 -6.61" fill="none" stroke="#000" stroke-width="2.7" stroke-linecap="butt" stroke-linejoin="round"/></g>
<g transform="translate(324.16 513.3) translate(-9.45 0)"><path d="M16.06 -19.84 L6.61 0 M2.83 -19.84 L16.06 -19.84" fill="none" stroke="#000" stroke-width="2.7" stroke-linecap="butt" stroke-linejoin="round"/></g>
<g transform="translate(470.38 513.3) translate(-9.45 0)"><path d="M7.56 -19.84 L4.72 -18.9 L3.78 -17.01 L3.78 -15.12 L4.72 -13.23 L6.61 -12.29 L10.39 -11.34 L13.23 -10.39 L15.12 -8.5 L16.06 -6.61 L16.06 -3.78 L15.12 -1.89 L14.17 -0.94 L11.34 0 L7.56 0 L4.72 -0.94 L3.78 -1.89 L2.83 -3.78 L2.83 -6.61 L3.78 -8.5 L5.67 -10.39 L8.5 -11.34 L12.29 -12.29 L14.17 -13.23 L15.12 -15.12 L15.12 -17.01 L14.17 -18.9 L11.34 -19.84 L7.56 -19.84" fill="none" stroke="#000" stroke-width="2.7" stroke-linecap="butt" stroke-linejoin="round"/></g>
<g transform="translate(616.59 513.3) translate(-9.45 0)"><path d="M15.12 -13.23 L14.17 -10.39 L12.29 -8.5 L9.45 -7.56 L8.5 -7.56 L5.67 -8.5 L3.78 -10.39 L2.83 -13.23 L2.83 -14.17 L3.78 -17.01 L5.67 -18.9 L8.5 -19.84 L9.45 -19.84 L12.29 -18.9 L14.17 -17.01 L15.12 -13.23 L15.12 -8.5 L14.17 -3.78 L12.29 -0.94 L9.45 0 L7.56 0 L4.72 -0.94 L3.78 -2.83" fill="none" stroke="#000" stroke-width="2.7" stroke-linecap="butt" stroke-linejoin="round"/></g>
<g transform="translate(762.8 513.3) translate(-18.9 0)"><path d="M5.67 -16.06 L7.56 -17.01 L10.39 -19.84 L10.39 0 M27.4 -19.84 L24.57 -18.9 L22.68 -16.06 L21.73 -11.34 L21.73 -8.5 L22.68 -3.78 L24.57 -0.94 L27.4 0 L29.29 0 L32.13 -0.94 L34.02 -3.78 L34.96 -8.5 L34.96 -11.34 L34.02 -16.06 L32.13 -18.9 L29.29 -19.84 L27.4 -19.84" fill="none" stroke="#000" stroke-width="2.7" stroke-linecap="butt" stroke-linejoin="round"/></g>
<g transform="translate(169.1 114.05) translate(-43.47 0)"><path d="M3.78 -8.5 L20.79 -8.5 M28.35 -15.12 L28.35 -16.06 L29.3 -17.95 L30.24 -18.9 L32.13 -19.84 L35.91 -19.84 L37.8 -18.9 L38.74 -17.95 L39.69 -16.06 L39.69 -14.17 L38.74 -12.29 L36.86 -9.45 L27.41 0 L40.63 0" fill="none" stroke="#000" stroke-width="2.7" stroke-linecap="butt" stroke-linejoin="round"/></g>
<g transform="translate(169.1 206.05) translate(-43.47 0)"><path d="M3.78 -8.5 L20.79 -8.5 M29.3 -19.84 L39.69 -19.84 L34.02 -12.29 L36.86 -12.29 L38.74 -11.34 L39.69 -10.39 L40.63 -7.56 L40.63 -5.67 L39.69 -2.83 L37.8 -0.94 L34.97 0 L32.13 0 L29.3 -0.94 L28.35 -1.89 L27.41 -3.78" fill="none" stroke="#000" stroke-width="2.7" stroke-linecap="butt" stroke-linejoin="round"/></g>
<g transform="translate(169.1 298.05) translate(-43.47 0)"><path d="M3.78 -8.5 L20.79 -8.5 M36.86 -19.84 L27.41 -6.61 L41.58 -6.61 M36.86 -19.84 L36.86 0" fill="none" stroke="#000" stroke-width="2.7" stroke-linecap="butt" stroke-linejoin="round"/></g>
<g transform="translate(169.1 390.05) translate(-43.47 0)"><path d="M3.78 -8.5 L20.79 -8.5 M38.74 -19.84 L29.3 -19.84 L28.35 -11.34 L29.3 -12.29 L32.13 -13.23 L34.97 -13.23 L37.8 -12.29 L39.69 -10.39 L40.63 -7.56 L40.63 -5.67 L39.69 -2.83 L37.8 -0.94 L34.97 0 L32.13 0 L29.3 -0.94 L28.35 -1.89 L27.41 -3.78" fill="none" stroke="#000" stroke-width="2.7" stroke-linecap="butt" stroke-linejoin="round"/></g>
<g transform="translate(169.1 470.4) translate(-43.47 0)"><path d="M3.78 -8.5 L20.79 -8.5 M39.69 -17.01 L38.74 -18.9 L35.91 -19.84 L34.02 -19.84 L31.18 -18.9 L29.3 -16.06 L28.35 -11.34 L28.35 -6.61 L29.3 -2.83 L31.18 -0.94 L34.02 0 L34.97 0 L37.8 -0.94 L39.69 -2.83 L40.63 -5.67 L40.63 -6.61 L39.69 -9.45 L37.8 -11.34 L34.97 -12.29 L34.02 -12.29 L31.18 -11.34 L29.3 -9.45 L28.35 -6.61" fill="none" stroke="#000" stroke-width="2.7" stroke-linecap="butt" stroke-linejoin="round"/></g>
<g transform="translate(375 550.3) translate(0 0)"><path d="M3.78 -19.84 L3.78 0 M3.78 0 L15.12 0 M23.62 -13.23 L21.73 -12.29 L19.84 -10.39 L18.9 -7.56 L18.9 -5.67 L19.84 -2.83 L21.73 -0.94 L23.62 0 L26.46 0 L28.35 -0.94 L30.24 -2.83 L31.18 -5.67 L31.18 -7.56 L30.24 -10.39 L28.35 -12.29 L26.46 -13.23 L23.62 -13.23 M48.19 -13.23 L48.19 1.89 L47.25 4.72 L46.3 5.67 L44.41 6.61 L41.58 6.61 L39.69 5.67 M48.19 -10.39 L46.3 -12.29 L44.41 -13.23 L41.58 -13.23 L39.69 -12.29 L37.8 -10.39 L36.85 -7.56 L36.85 -5.67 L37.8 -2.83 L39.69 -0.94 L41.58 0 L44.41 0 L46.3 -0.94 L48.19 -2.83 M70.88 -19.84 L70.88 0 M70.88 -19.84 L78.44 0 M86 -19.84 L78.44 0 M86 -19.84 L86 0 M92.12 -5 L92.12 7.3 M92.12 -5 L97.39 -5 L99.15 -4.42 L99.74 -3.83 L100.32 -2.66 L100.32 -1.49 L99.74 -0.32 L99.15 0.27 L97.39 0.86 M92.12 0.86 L97.39 0.86 L99.15 1.44 L99.74 2.03 L100.32 3.2 L100.32 4.96 L99.74 6.13 L99.15 6.71 L97.39 7.3 L92.12 7.3 M104.42 -5 L104.42 7.3 M112.63 -5 L112.63 7.3 M104.42 0.86 L112.63 0.86 M133.87 -23.62 L133.87 7.56 M134.81 -23.62 L134.81 7.56 M133.87 -23.62 L140.48 -23.62 M133.87 7.56 L140.48 7.56 M146.5 -19.84 L146.5 0 M146.5 -19.84 L154.06 0 M161.62 -19.84 L154.06 0 M161.62 -19.84 L161.62 0" fill="none" stroke="#000" stroke-width="2.7" stroke-linecap="butt" stroke-linejoin="round"/></g>
<circle cx="547.05" cy="549.2" r="4.6" fill="none" stroke="#000" stroke-width="2.7"/>
<circle cx="547.05" cy="549.2" r="1.35" fill="none" stroke="#000" stroke-width="1.7"/>
<g transform="translate(552.05 550.3) translate(0 0)"><path d="M8.5 -23.62 L8.5 7.56 M9.45 -23.62 L9.45 7.56 M2.83 -23.62 L9.45 -23.62 M2.83 7.56 L9.45 7.56" fill="none" stroke="#000" stroke-width="2.7" stroke-linecap="butt" stroke-linejoin="round"/></g>
<g transform="translate(99.7 446.88) rotate(-90) translate(0 0)"><path d="M3.78 -19.84 L3.78 0 M3.78 0 L15.12 0 M23.62 -13.23 L21.73 -12.29 L19.84 -10.39 L18.9 -7.56 L18.9 -5.67 L19.84 -2.83 L21.73 -0.94 L23.62 0 L26.46 0 L28.35 -0.94 L30.24 -2.83 L31.18 -5.67 L31.18 -7.56 L30.24 -10.39 L28.35 -12.29 L26.46 -13.23 L23.62 -13.23 M48.19 -13.23 L48.19 1.89 L47.25 4.72 L46.3 5.67 L44.41 6.61 L41.58 6.61 L39.69 5.67 M48.19 -10.39 L46.3 -12.29 L44.41 -13.23 L41.58 -13.23 L39.69 -12.29 L37.8 -10.39 L36.85 -7.56 L36.85 -5.67 L37.8 -2.83 L39.69 -0.94 L41.58 0 L44.41 0 L46.3 -0.94 L48.19 -2.83" fill="none" stroke="#000" stroke-width="2.7" stroke-linecap="butt" stroke-linejoin="round"/></g>
<g transform="translate(99.7 446.88) rotate(-90) translate(67.09 0)"><path d="M17.25 -6.52 L17.12 -5.72 L16.89 -4.93 L16.54 -4.17 L16.08 -3.45 L15.53 -2.78 L14.89 -2.18 L14.18 -1.65 L13.4 -1.2 L12.56 -0.85 L11.69 -0.59 L10.8 -0.43 L9.9 -0.38 L9.01 -0.43 L8.15 -0.59 L7.32 -0.85 L6.54 -1.2 L5.83 -1.65 L5.2 -2.18 L4.66 -2.78 L4.22 -3.45 L3.88 -4.17 L3.65 -4.93 L3.54 -5.72 L3.54 -6.52 L3.67 -7.32 L3.9 -8.11 L4.25 -8.87 L4.71 -9.59 L5.26 -10.26 L5.9 -10.86 L6.61 -11.39 L7.39 -11.84 L8.23 -12.2 L9.1 -12.45 L9.99 -12.61 L10.89 -12.66 L11.78 -12.61 L12.64 -12.45 L13.47 -12.2 L14.25 -11.84 L14.96 -11.39 L15.59 -10.86 L16.13 -10.26 L16.57 -9.59 L16.91 -8.87 L17.14 -8.11 L17.25 -7.32 L17.25 -6.52 Z M13.51 -19.28 L7.28 6.99" fill="none" stroke="#000" stroke-width="3.7" stroke-linejoin="round"/></g>
<g transform="translate(99.7 359.37) rotate(-90) translate(0 0)"><path d="M10.39 -23.62 L8.5 -21.73 L6.61 -18.9 L4.72 -15.12 L3.78 -10.39 L3.78 -6.61 L4.72 -1.89 L6.61 1.89 L8.5 4.72 L10.39 6.61 M17.01 -19.84 L17.01 0 M17.01 -19.84 L24.57 0 M32.13 -19.84 L24.57 0 M32.13 -19.84 L32.13 0 M38.25 -5 L38.25 7.3 M38.25 -5 L43.53 -5 L45.28 -4.42 L45.87 -3.83 L46.46 -2.66 L46.46 -1.49 L45.87 -0.32 L45.28 0.27 L43.53 0.86 M38.25 0.86 L43.53 0.86 L45.28 1.44 L45.87 2.03 L46.46 3.2 L46.46 4.96 L45.87 6.13 L45.28 6.71 L43.53 7.3 L38.25 7.3 M50.56 -5 L50.56 7.3 M58.76 -5 L58.76 7.3 M50.56 0.86 L58.76 0.86 M63.94 -23.62 L65.83 -21.73 L67.72 -18.9 L69.61 -15.12 L70.55 -10.39 L70.55 -6.61 L69.61 -1.89 L67.72 1.89 L65.83 4.72 L63.94 6.61 M93.23 -23.62 L93.23 7.56 M94.18 -23.62 L94.18 7.56 M93.23 -23.62 L99.85 -23.62 M93.23 7.56 L99.85 7.56 M106.46 -19.84 L106.46 0 M106.46 -19.84 L114.02 0 M121.58 -19.84 L114.02 0 M121.58 -19.84 L121.58 0 M129.14 -13.23 L129.14 6.61 M129.14 -10.39 L131.03 -12.29 L132.92 -13.23 L135.76 -13.23 L137.65 -12.29 L139.54 -10.39 L140.48 -7.56 L140.48 -5.67 L139.54 -2.83 L137.65 -0.94 L135.76 0 L132.92 0 L131.03 -0.94 L129.14 -2.83 M157.49 -10.39 L155.6 -12.29 L153.71 -13.23 L150.88 -13.23 L148.99 -12.29 L147.1 -10.39 L146.15 -7.56 L146.15 -5.67 L147.1 -2.83 L148.99 -0.94 L150.88 0 L153.71 0 L155.6 -0.94 L157.49 -2.83 M161.99 -17.94 L169.48 -17.94 M173.22 -22.93 L177.79 -22.93 L175.3 -19.61 L176.54 -19.61 L177.38 -19.19 L177.79 -18.77 L178.21 -17.53 L178.21 -16.69 L177.79 -15.45 L176.96 -14.62 L175.71 -14.2 L174.47 -14.2 L173.22 -14.62 L172.8 -15.03 L172.39 -15.86 M208.75 -19.84 L208.75 0 M208.75 -10.39 L206.86 -12.29 L204.97 -13.23 L202.14 -13.23 L200.25 -12.29 L198.36 -10.39 L197.41 -7.56 L197.41 -5.67 L198.36 -2.83 L200.25 -0.94 L202.14 0 L204.97 0 L206.86 -0.94 L208.75 -2.83 M215.37 -7.56 L226.71 -7.56 L226.71 -9.45 L225.76 -11.34 L224.82 -12.29 L222.93 -13.23 L220.09 -13.23 L218.2 -12.29 L216.31 -10.39 L215.37 -7.56 L215.37 -5.67 L216.31 -2.83 L218.2 -0.94 L220.09 0 L222.93 0 L224.82 -0.94 L226.71 -2.83 M232.38 -13.23 L242.77 0 M242.77 -13.23 L232.38 0 M247.27 -17.94 L254.75 -17.94 M258.91 -21.27 L259.74 -21.68 L260.99 -22.93 L260.99 -14.2 M272.44 -23.62 L272.44 7.56 M273.38 -23.62 L273.38 7.56 M266.77 -23.62 L273.38 -23.62 M266.77 7.56 L273.38 7.56" fill="none" stroke="#000" stroke-width="2.7" stroke-linecap="butt" stroke-linejoin="round"/></g>
<g transform="translate(490.57 113) translate(0 0)"><path d="M3.78 -19.84 L3.78 0 M3.78 -19.84 L11.34 0 M18.9 -19.84 L11.34 0 M18.9 -19.84 L18.9 0 M25.62 -4.4 L25.62 7.9 M25.62 -4.4 L30.9 -4.4 L32.65 -3.82 L33.24 -3.23 L33.83 -2.06 L33.83 -0.89 L33.24 0.28 L32.65 0.87 L30.9 1.46 M25.62 1.46 L30.9 1.46 L32.65 2.04 L33.24 2.63 L33.83 3.8 L33.83 5.56 L33.24 6.73 L32.65 7.31 L30.9 7.9 L25.62 7.9 M37.93 -4.4 L37.93 7.9 M46.13 -4.4 L46.13 7.9 M37.93 1.46 L46.13 1.46 M51.65 -8.5 L68.66 -8.5 M76.22 -19.84 L76.22 0 M76.22 -19.84 L83.78 0 M91.34 -19.84 L83.78 0 M91.34 -19.84 L91.34 0 M97.47 -0.3 L97.47 7.9 M97.47 3.21 L98.05 1.46 L99.23 0.28 L100.4 -0.3 L102.15 -0.3" fill="none" stroke="#000" stroke-width="2.25" stroke-linecap="butt" stroke-linejoin="round"/></g>
<g transform="translate(501.3 141.5) translate(0 0)"><path d="M3.78 -19.84 L3.78 0 M3.78 -19.84 L11.34 0 M18.9 -19.84 L11.34 0 M18.9 -19.84 L18.9 0 M25.62 -4.4 L25.62 7.9 M25.62 -4.4 L30.9 -4.4 L32.65 -3.82 L33.24 -3.23 L33.83 -2.06 L33.83 -0.89 L33.24 0.28 L32.65 0.87 L30.9 1.46 M25.62 1.46 L30.9 1.46 L32.65 2.04 L33.24 2.63 L33.83 3.8 L33.83 5.56 L33.24 6.73 L32.65 7.31 L30.9 7.9 L25.62 7.9 M37.93 -4.4 L37.93 7.9 M46.13 -4.4 L46.13 7.9 M37.93 1.46 L46.13 1.46 M51.65 -8.5 L68.66 -8.5" fill="none" stroke="#000" stroke-width="2.25" stroke-linecap="butt" stroke-linejoin="round"/></g>
<g transform="translate(573.74 141.5)" fill="none" stroke="#000" stroke-linejoin="round"><path d="M13.55 -6.5 L13.38 -5.68 L13.13 -4.87 L12.79 -4.09 L12.38 -3.35 L11.9 -2.66 L11.36 -2.05 L10.77 -1.5 L10.13 -1.04 L9.47 -0.68 L8.78 -0.41 L8.09 -0.25 L7.41 -0.2 L6.73 -0.25 L6.09 -0.41 L5.49 -0.68 L4.93 -1.04 L4.43 -1.5 L4 -2.05 L3.65 -2.66 L3.37 -3.35 L3.18 -4.09 L3.08 -4.87 L3.07 -5.68 L3.15 -6.5 L3.32 -7.32 L3.57 -8.13 L3.91 -8.91 L4.32 -9.65 L4.8 -10.34 L5.34 -10.95 L5.93 -11.5 L6.57 -11.96 L7.23 -12.32 L7.92 -12.59 L8.61 -12.75 L9.29 -12.8 L9.97 -12.75 L10.61 -12.59 L11.21 -12.32 L11.77 -11.96 L12.27 -11.5 L12.7 -10.95 L13.05 -10.34 L13.33 -9.65 L13.52 -8.91 L13.62 -8.13 L13.63 -7.32 L13.55 -6.5 Z" stroke-width="3.3"/><path d="M18.0 -12.75 L9.3 -12.75" stroke-width="3.6"/></g>
</svg>
</body></html>
